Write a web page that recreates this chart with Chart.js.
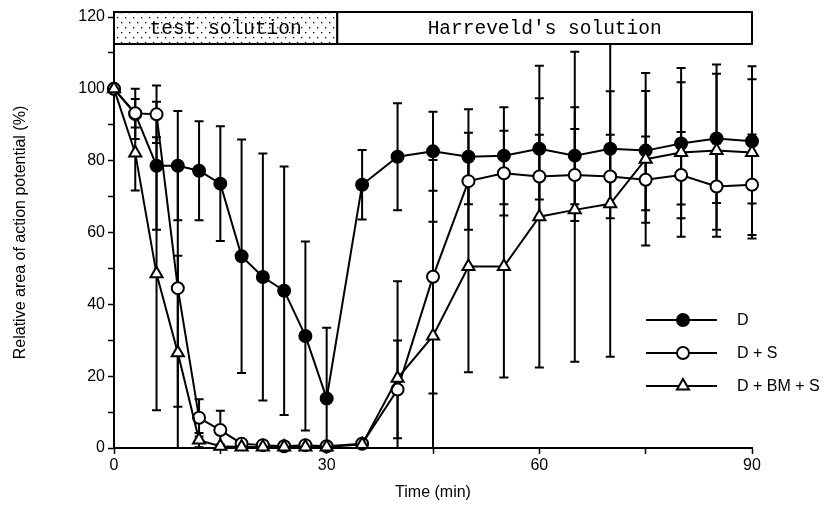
<!DOCTYPE html>
<html>
<head>
<meta charset="utf-8">
<script src="https://cdn.jsdelivr.net/npm/chart.js@4/dist/chart.umd.min.js"></script>
<style>
  html, body { margin: 0; padding: 0; background: #fff; }
  #wrap { width: 824px; height: 505px; position: relative; }
</style>
</head>
<body>
<div id="wrap"><canvas id="chart" width="824" height="505"></canvas></div>
<script>
// time points (min)
const times = [0, 3, 6, 9, 12, 15, 18, 21, 24, 27, 30, 35, 40, 45, 50, 55, 60, 65, 70, 75, 80, 85, 90];

// D
const dVals = [100, 93, 78.6, 78.6, 77.2, 73.6, 53.4, 47.6, 43.8, 31.2, 13.8, 73.3, 81.1, 82.6, 81.1, 81.4, 83.3, 81.4, 83.3, 82.8, 84.8, 86.2, 85.4];
const dErr = [0, 7, 17.8, 15.2, 13.8, 16, 32.5, 34.4, 34.6, 26.3, 19.7, 9.7, 14.9, 11, 13.2, 13.5, 14.1, 13.5, 16, 16.6, 17, 18, 17.3];

// D + S
const sVals = [100, 93.2, 92.9, 44.5, 8.4, 5.0, 1.2, 0.8, 0.5, 0.8, 0.5, 1.2, 16.3, 47.7, 74.3, 76.5, 75.6, 76.0, 75.6, 74.7, 76.0, 72.8, 73.3];
const sErr = [0, 4, 8, 33, 5.2, 5.4, 1, 0.8, 0.5, 0.8, 0.5, 1, 13.6, 32.5, 13.5, 11.8, 11.6, 12.8, 11.6, 12, 12, 12, 14];

// D + BM + S (upper and lower error differ a little late in the run)
const bmVals = [100, 82.1, 48.5, 26.5, 2.2, 0.5, 0.3, 0.3, 0.3, 0.3, 0.3, 1, 19.4, 31.2, 50.5, 50.5, 64.4, 66.3, 68.0, 80.4, 82.3, 82.8, 82.3];
const bmErrUp = [0, 10.4, 38, 27, 2, 0.5, 0, 0, 0, 0, 0, 0.5, 27, 31.8, 29.4, 30.9, 42, 44, 44.5, 24, 23.5, 24, 24];
const bmErrDown = [0, 10.4, 38, 27, 2, 0.5, 0, 0, 0, 0, 0, 0.5, 27, 31.8, 29.4, 30.9, 42, 42.3, 42.6, 24, 23.5, 24, 24];

const labels = ['D', 'D + S', 'D + BM + S'];
const xTickLabels = [0, 30, 60, 90];
const yTickLabels = [0, 20, 40, 60, 80, 100, 120];

// solution periods shown in the banner (min)
const periods = [
    { label: 'test solution', from: 0, to: 31.5, dotted: true },
    { label: "Harreveld's solution", from: 31.5, to: 90, dotted: false }
];

const toPoints = vals => vals.map((v, i) => ({ x: times[i], y: v }));

function dotPattern(ctx) {
    const c = document.createElement('canvas');
    c.width = 8; c.height = 10;
    const p = c.getContext('2d');
    p.fillStyle = '#000';
    p.fillRect(1, 2, 1.3, 1.3);
    p.fillRect(5, 7, 1.3, 1.3);
    return ctx.createPattern(c, 'repeat');
}

// error bars behind the markers
const errorBars = {
    id: 'errorBars',
    beforeDatasetsDraw(chart) {
        const ctx = chart.ctx;
        const y = chart.scales.y;
        ctx.save();
        ctx.strokeStyle = '#000';
        ctx.lineWidth = 2;
        chart.data.datasets.forEach((ds, di) => {
            const meta = chart.getDatasetMeta(di);
            meta.data.forEach((pt, i) => {
                const up = ds.errUp[i], down = ds.errDown[i];
                if (!up && !down) return;
                const v = ds.data[i].y;
                const top = y.getPixelForValue(v + up);
                const bot = y.getPixelForValue(Math.max(v - down, 0));
                ctx.beginPath();
                ctx.moveTo(pt.x, top); ctx.lineTo(pt.x, bot);
                ctx.moveTo(pt.x - 4.5, top); ctx.lineTo(pt.x + 4.5, top);
                if (v - down > 0) { ctx.moveTo(pt.x - 4.5, bot); ctx.lineTo(pt.x + 4.5, bot); }
                ctx.stroke();
            });
        });
        ctx.restore();
    }
};

// banner with the two solutions, and the legend inside the plot
const extras = {
    id: 'extras',
    afterDraw(chart) {
        const ctx = chart.ctx;
        const x = chart.scales.x;
        const area = chart.chartArea;
        const top = area.top - 5, h = 32;
        ctx.save();
        periods.forEach(p => {
            const x0 = x.getPixelForValue(p.from), x1 = x.getPixelForValue(p.to);
            ctx.fillStyle = '#fff';
            ctx.fillRect(x0, top, x1 - x0, h);
            if (p.dotted) {
                ctx.fillStyle = dotPattern(ctx);
                ctx.fillRect(x0, top, x1 - x0, h);
            }
            ctx.font = '19.5px "Liberation Mono", monospace';
            ctx.textAlign = 'center';
            ctx.textBaseline = 'middle';
            ctx.fillStyle = '#000';
            ctx.fillText(p.label, (x0 + x1) / 2, top + h / 2 + 1);
            ctx.strokeStyle = '#000';
            ctx.lineWidth = 2;
            ctx.strokeRect(x0, top, x1 - x0, h);
        });

        // legend
        chart.data.datasets.forEach((ds, i) => {
            const ly = 320 + i * 33;
            ctx.strokeStyle = '#000';
            ctx.lineWidth = 2;
            ctx.beginPath();
            ctx.moveTo(646, ly); ctx.lineTo(717, ly);
            ctx.stroke();
            ctx.fillStyle = ds.pointBackgroundColor;
            ctx.beginPath();
            if (ds.pointStyle === 'circle') {
                ctx.arc(683, ly, ds.pointRadius, 0, Math.PI * 2);
            } else {
                const r = ds.pointRadius;
                ctx.moveTo(683, ly - r);
                ctx.lineTo(683 + r * 0.866, ly + r / 2);
                ctx.lineTo(683 - r * 0.866, ly + r / 2);
                ctx.closePath();
            }
            ctx.fill(); ctx.stroke();
            ctx.fillStyle = '#000';
            ctx.font = '16px "Liberation Sans", Arial, sans-serif';
            ctx.textAlign = 'left';
            ctx.textBaseline = 'middle';
            ctx.fillText(labels[i], 737, ly + 1);
        });
        ctx.restore();
    }
};

function series(label, vals, up, down, style, fill, order) {
    return {
        label: label,
        data: toPoints(vals),
        errUp: up,
        errDown: down,
        borderColor: '#000',
        borderWidth: 2,
        pointStyle: style,
        pointRadius: style === 'triangle' ? 7 : 6,
        pointBorderWidth: 2,
        pointBackgroundColor: fill,
        pointBorderColor: '#000',
        tension: 0,
        clip: false,
        order: order
    };
}

const font = { family: '"Liberation Sans", Arial, sans-serif', size: 16 };

new Chart(document.getElementById('chart'), {
    type: 'line',
    data: {
        datasets: [
            series(labels[0], dVals, dErr, dErr, 'circle', '#000', 2),
            series(labels[1], sVals, sErr, sErr, 'circle', '#fff', 1),
            series(labels[2], bmVals, bmErrUp, bmErrDown, 'triangle', '#fff', 0)
        ]
    },
    options: {
        responsive: false,
        animation: false,
        layout: { padding: { top: 17, right: 72, bottom: 0, left: 0 } },
        plugins: { legend: { display: false }, tooltip: { enabled: false } },
        scales: {
            x: {
                type: 'linear',
                min: 0, max: 90,
                afterFit: s => { s.height = 57; },
                ticks: {
                    stepSize: 15,
                    color: '#000',
                    padding: 2,
                    font: font,
                    callback: v => xTickLabels.includes(v) ? String(v) : ''
                },
                grid: { drawOnChartArea: false, color: '#000', tickLength: 6, tickWidth: 1.5 },
                border: { color: '#000', width: 2 },
                title: {
                    display: true, text: 'Time (min)', color: '#000',
                    font: font,
                    padding: { top: 4, bottom: 3 }
                }
            },
            y: {
                min: 0, max: 120,
                afterFit: s => { s.width = 114; },
                ticks: {
                    stepSize: 10,
                    color: '#000',
                    padding: 3,
                    font: font,
                    callback: v => yTickLabels.includes(v) ? String(v) : ''
                },
                grid: { drawOnChartArea: false, color: '#000', tickLength: 6, tickWidth: 1.5 },
                border: { color: '#000', width: 2 },
                title: {
                    display: true, text: 'Relative area of action potential (%)', color: '#000',
                    font: font,
                    padding: { top: 11, bottom: 0 }
                }
            }
        }
    },
    plugins: [errorBars, extras]
});
</script>
</body>
</html>
